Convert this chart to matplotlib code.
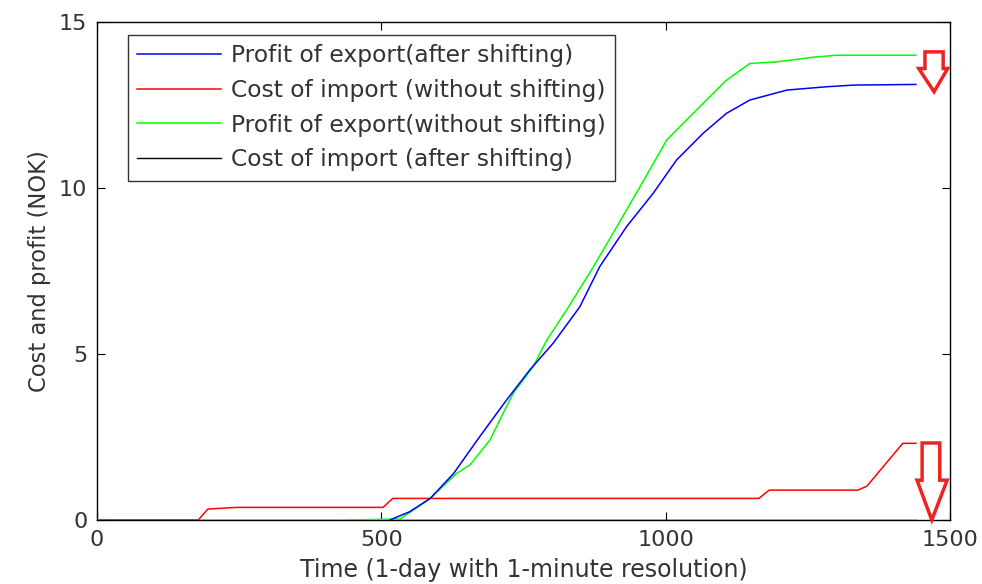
import matplotlib
matplotlib.use("Agg")
import matplotlib.pyplot as plt
from matplotlib.patches import Polygon

plt.rcParams['font.family'] = ['DejaVu Sans']

# Profit of export (after shifting) - blue
blue_x = [515, 550, 586, 627, 673, 720, 761, 802, 849, 884, 931, 978, 1019, 1066, 1107, 1148, 1213, 1283, 1330, 1440]
blue_y = [0.0, 0.25, 0.65, 1.4, 2.51, 3.61, 4.52, 5.32, 6.42, 7.63, 8.83, 9.84, 10.84, 11.65, 12.25, 12.65, 12.95, 13.05, 13.1, 13.12]

# Cost of import (without shifting) - red
red_x = [0, 178, 195, 246, 503, 520, 1164, 1182, 1338, 1354, 1417, 1440]
red_y = [0, 0, 0.33, 0.38, 0.38, 0.65, 0.65, 0.9, 0.9, 1.02, 2.31, 2.31]

# Profit of export (without shifting) - green
green_x = [441, 533, 586, 632, 656, 691, 714, 732, 767, 791, 826, 873, 914, 955, 1002, 1060, 1107, 1148, 1195, 1260, 1300, 1440]
green_y = [0, 0.03, 0.65, 1.4, 1.66, 2.41, 3.21, 3.82, 4.62, 5.42, 6.33, 7.63, 8.83, 10.04, 11.45, 12.45, 13.25, 13.75, 13.8, 13.94, 14.0, 14.0]

# Cost of import (after shifting) - black
black_x = [0, 1440]
black_y = [0, 0]

labels = ["Profit of export(after shifting)",
          "Cost of import (without shifting)",
          "Profit of export(without shifting)",
          "Cost of import (after shifting)"]

xticks = [0, 500, 1000, 1500]
yticks = [0, 5, 10, 15]

text_col = '#333333'

fig = plt.figure(figsize=(9.82, 5.84), dpi=100)
ax = fig.add_axes([0.0988, 0.1096, 0.8686, 0.8527])

lk, = ax.plot(black_x, black_y, color='black', lw=1.0, zorder=2)
lb, = ax.plot(blue_x, blue_y, color='#0000ff', lw=1.1, zorder=4)
lr, = ax.plot(red_x, red_y, color='#ff0000', lw=1.1, zorder=3)
lg, = ax.plot(green_x, green_y, color='#00ff00', lw=1.1, zorder=3)

ax.set_xlim(0, 1500)
ax.set_ylim(0, 15)
ax.set_xticks(xticks)
ax.set_yticks(yticks)
ax.tick_params(direction='in', top=True, right=True, length=6, width=0.8,
               labelsize=16, colors='black', labelcolor=text_col, pad=7)
for s in ax.spines.values():
    s.set_linewidth(1.0)
ax.set_xlabel("Time (1-day with 1-minute resolution)", fontsize=17, labelpad=6, color=text_col)
ax.set_ylabel("Cost and profit (NOK)", fontsize=16.3, labelpad=6, color=text_col)

leg = ax.legend([lb, lr, lg, lk], labels, loc='upper left', bbox_to_anchor=(0.0363, 0.974),
                fontsize=16.8, frameon=True, fancybox=False, edgecolor='black',
                handlelength=3.6, handletextpad=0.4, borderpad=0.4, labelspacing=0.5,
                borderaxespad=0)
leg.get_frame().set_linewidth(1.0)
for t in leg.get_texts():
    t.set_color(text_col)
leg.set_zorder(10)

# hollow red arrows (annotations)
arrow_red = '#ee2222'
top_arrow = [(1456, 14.1), (1488, 14.1), (1488, 13.6), (1496, 13.6), (1472, 12.9),
             (1445, 13.6), (1456, 13.6)]
bot_arrow = [(1451, 2.32), (1482, 2.32), (1482, 1.2), (1495, 1.2), (1468, 0.0),
             (1442, 1.2), (1451, 1.2)]
for pts in (top_arrow, bot_arrow):
    ax.add_patch(Polygon(pts, closed=True, facecolor='white', edgecolor=arrow_red,
                         lw=2.5, zorder=6, clip_on=False, joinstyle='miter'))

fig.savefig("out.png", dpi=100)
